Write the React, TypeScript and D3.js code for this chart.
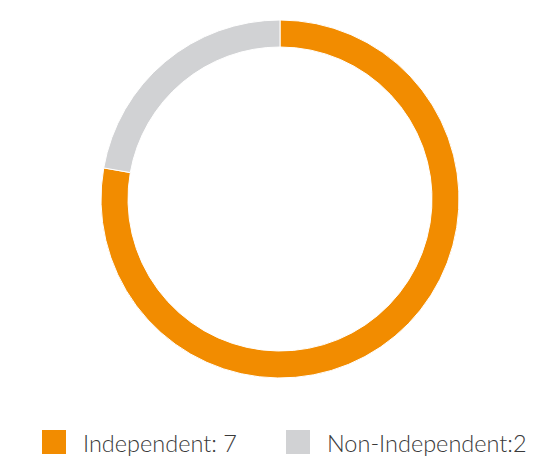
import { useEffect, useRef } from "react";
import * as d3 from "d3";

const labels = ["Independent", "Non-Independent"];
const values = [7, 2];
const legendText = ["Independent: 7", "Non-Independent:2"];
const colours = ["#f28c00", "#d1d2d4"];

export default function App() {
  const svgRef = useRef<SVGSVGElement>(null);

  useEffect(() => {
    if (!svgRef.current) return;
    const width = 560;
    const height = 460;
    const svg = d3.select(svgRef.current);
    svg.selectAll("*").remove();
    svg.attr("width", width).attr("height", height);

    const outer = 179;
    const inner = 152;
    const g = svg.append("g").attr("transform", "translate(280,199)");

    const pie = d3.pie<number>().sort(null).value(d => d);
    const arc = d3.arc<d3.PieArcDatum<number>>()
      .innerRadius(inner)
      .outerRadius(outer);

    g.selectAll("path")
      .data(pie(values))
      .enter()
      .append("path")
      .attr("d", arc)
      .attr("fill", (_, i) => colours[i])
      .attr("stroke", "#fff")
      .attr("stroke-width", 1);

    const legendX = d3.scalePoint<string>()
      .domain(labels)
      .range([42, 286]);

    const legend = svg.append("g")
      .selectAll("g")
      .data(labels)
      .enter()
      .append("g")
      .attr("transform", d => `translate(${legendX(d)},430)`);

    legend.append("rect")
      .attr("width", 24)
      .attr("height", 24)
      .attr("fill", (_, i) => colours[i]);

    legend.append("text")
      .attr("x", 41)
      .attr("y", 22)
      .attr("font-family", "Lato")
      .attr("font-weight", 300)
      .attr("font-size", 23.5)
      .attr("fill", "#3a3a3a")
      .text((_, i) => legendText[i]);
  }, []);

  return (
    <div style={{ position: "absolute", left: 0, top: 0 }}>
      <svg ref={svgRef}></svg>
    </div>
  );
}
